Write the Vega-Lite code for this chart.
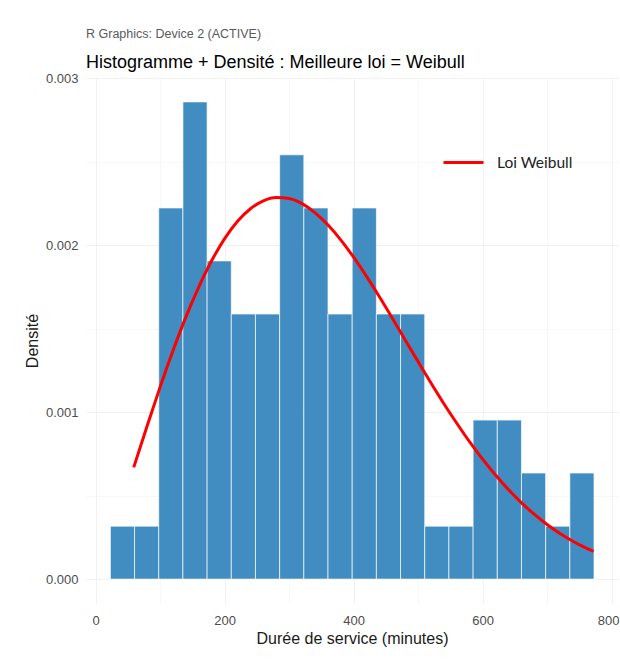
{
  "$schema": "https://vega.github.io/schema/vega-lite/v6.json",
  "width": 532,
  "height": 525,
  "autosize": {"type": "none"},
  "padding": {"left": 86, "top": 78, "right": 2, "bottom": 59},
  "background": "#ffffff",
  "config": {
    "view": {"stroke": null},
    "font": "Liberation Sans"
  },
  "title": {
    "text": "R Graphics: Device 2 (ACTIVE)",
    "subtitle": "Histogramme + Densité : Meilleure loi = Weibull",
    "anchor": "start",
    "frame": "group",
    "font": "Liberation Sans",
    "fontSize": 12.5,
    "fontWeight": "normal",
    "color": "#5a5a5a",
    "subtitleFont": "Liberation Sans",
    "subtitleFontSize": 18,
    "subtitleColor": "#000000",
    "subtitlePadding": 14,
    "offset": 0
  },
  "datasets": {
    "classes": [
      {"debut": 22.8, "fin": 60.3, "densite": 0.000317},
      {"debut": 60.3, "fin": 97.8, "densite": 0.000317},
      {"debut": 97.8, "fin": 135.3, "densite": 0.002222},
      {"debut": 135.3, "fin": 172.8, "densite": 0.002857},
      {"debut": 172.8, "fin": 210.3, "densite": 0.001905},
      {"debut": 210.3, "fin": 247.8, "densite": 0.001587},
      {"debut": 247.8, "fin": 285.3, "densite": 0.001587},
      {"debut": 285.3, "fin": 322.8, "densite": 0.00254},
      {"debut": 322.8, "fin": 360.3, "densite": 0.002222},
      {"debut": 360.3, "fin": 397.8, "densite": 0.001587},
      {"debut": 397.8, "fin": 435.3, "densite": 0.002222},
      {"debut": 435.3, "fin": 472.8, "densite": 0.001587},
      {"debut": 472.8, "fin": 510.3, "densite": 0.001587},
      {"debut": 510.3, "fin": 547.8, "densite": 0.000317},
      {"debut": 547.8, "fin": 585.3, "densite": 0.000317},
      {"debut": 585.3, "fin": 622.8, "densite": 0.000952},
      {"debut": 622.8, "fin": 660.3, "densite": 0.000952},
      {"debut": 660.3, "fin": 697.8, "densite": 0.000635},
      {"debut": 697.8, "fin": 735.3, "densite": 0.000317},
      {"debut": 735.3, "fin": 772.8, "densite": 0.000635}
    ],
    "weibull": [
      {"duree": 59, "densite": 0.000669, "courbe": "Loi Weibull"},
      {"duree": 80, "densite": 0.00092, "courbe": "Loi Weibull"},
      {"duree": 100, "densite": 0.001151, "courbe": "Loi Weibull"},
      {"duree": 120, "densite": 0.001369, "courbe": "Loi Weibull"},
      {"duree": 140, "densite": 0.00157, "courbe": "Loi Weibull"},
      {"duree": 160, "densite": 0.00175, "courbe": "Loi Weibull"},
      {"duree": 180, "densite": 0.001907, "courbe": "Loi Weibull"},
      {"duree": 200, "densite": 0.002038, "courbe": "Loi Weibull"},
      {"duree": 220, "densite": 0.002142, "courbe": "Loi Weibull"},
      {"duree": 240, "densite": 0.002217, "courbe": "Loi Weibull"},
      {"duree": 260, "densite": 0.002265, "courbe": "Loi Weibull"},
      {"duree": 280, "densite": 0.002285, "courbe": "Loi Weibull"},
      {"duree": 300, "densite": 0.002279, "courbe": "Loi Weibull"},
      {"duree": 320, "densite": 0.002248, "courbe": "Loi Weibull"},
      {"duree": 340, "densite": 0.002194, "courbe": "Loi Weibull"},
      {"duree": 360, "densite": 0.002121, "courbe": "Loi Weibull"},
      {"duree": 380, "densite": 0.002031, "courbe": "Loi Weibull"},
      {"duree": 400, "densite": 0.001927, "courbe": "Loi Weibull"},
      {"duree": 420, "densite": 0.001812, "courbe": "Loi Weibull"},
      {"duree": 440, "densite": 0.00169, "courbe": "Loi Weibull"},
      {"duree": 460, "densite": 0.001562, "courbe": "Loi Weibull"},
      {"duree": 480, "densite": 0.001431, "courbe": "Loi Weibull"},
      {"duree": 500, "densite": 0.001302, "courbe": "Loi Weibull"},
      {"duree": 520, "densite": 0.001174, "courbe": "Loi Weibull"},
      {"duree": 540, "densite": 0.00105, "courbe": "Loi Weibull"},
      {"duree": 560, "densite": 0.000933, "courbe": "Loi Weibull"},
      {"duree": 580, "densite": 0.000821, "courbe": "Loi Weibull"},
      {"duree": 600, "densite": 0.000718, "courbe": "Loi Weibull"},
      {"duree": 620, "densite": 0.000623, "courbe": "Loi Weibull"},
      {"duree": 640, "densite": 0.000536, "courbe": "Loi Weibull"},
      {"duree": 660, "densite": 0.000458, "courbe": "Loi Weibull"},
      {"duree": 680, "densite": 0.000389, "courbe": "Loi Weibull"},
      {"duree": 700, "densite": 0.000327, "courbe": "Loi Weibull"},
      {"duree": 720, "densite": 0.000273, "courbe": "Loi Weibull"},
      {"duree": 740, "densite": 0.000227, "courbe": "Loi Weibull"},
      {"duree": 760, "densite": 0.000187, "courbe": "Loi Weibull"},
      {"duree": 772, "densite": 0.000166, "courbe": "Loi Weibull"}
    ]
  },
  "layer": [
    {
      "data": {"name": "classes"},
      "mark": {"type": "bar", "color": "#418cc1", "stroke": "#ffffff", "strokeWidth": 0.8, "strokeOpacity": 0.85},
      "encoding": {
        "x": {
          "field": "debut",
          "type": "quantitative",
          "title": "Durée de service (minutes)",
          "scale": {"domain": [-15, 810], "nice": false, "zero": false},
          "axis": {
            "values": [0, 100, 200, 300, 400, 500, 600, 700, 800],
            "labelExpr": "datum.value % 200 === 0 ? datum.label : ''",
            "format": "d",
            "domain": false,
            "ticks": false,
            "grid": true,
            "gridColor": "#f1f1f1",
            "gridWidth": {"condition": {"test": "datum.value % 200 === 0", "value": 1.1}, "value": 0.55},
            "labelColor": "#4d4d4d",
            "labelFontSize": 13,
            "labelPadding": 11,
            "labelOffset": {"condition": {"test": "datum.value === 800", "value": -3.5}, "value": 0},
            "labelFlush": false,
            "labelOverlap": false,
            "titleFontSize": 16,
            "titleFontWeight": "normal",
            "titleColor": "#1a1a1a",
            "titlePadding": 3
          }
        },
        "x2": {"field": "fin"},
        "y": {
          "field": "densite",
          "type": "quantitative",
          "title": "Densité",
          "scale": {"domain": [-0.000143, 0.003], "nice": false, "zero": false},
          "axis": {
            "values": [0, 0.0005, 0.001, 0.0015, 0.002, 0.0025, 0.003],
            "labelExpr": "round(datum.value * 2000) % 2 === 0 ? format(datum.value, '.3f') : ''",
            "domain": false,
            "ticks": false,
            "grid": true,
            "gridColor": "#f1f1f1",
            "gridWidth": {"condition": {"test": "round(datum.value * 2000) % 2 === 0", "value": 1.1}, "value": 0.55},
            "labelColor": "#4d4d4d",
            "labelFontSize": 13,
            "labelPadding": 8,
            "labelFlush": false,
            "labelOverlap": false,
            "titleFontSize": 16,
            "titleFontWeight": "normal",
            "titleColor": "#1a1a1a",
            "titlePadding": 5
          }
        },
        "y2": {"datum": 0}
      }
    },
    {
      "data": {"name": "weibull"},
      "mark": {"type": "line", "strokeWidth": 3, "interpolate": "monotone"},
      "encoding": {
        "x": {"field": "duree", "type": "quantitative", "title": "Durée de service (minutes)"},
        "y": {"field": "densite", "type": "quantitative", "title": "Densité"},
        "color": {
          "field": "courbe",
          "type": "nominal",
          "scale": {"range": ["#ff0000"]},
          "legend": {
            "orient": "none",
            "legendX": 356,
            "legendY": 63,
            "title": null,
            "padding": 0,
            "symbolType": "stroke",
            "symbolSize": 1600,
            "symbolStrokeWidth": 3,
            "labelFont": "Lato",
            "labelFontSize": 15.5,
            "labelColor": "#222222",
            "labelOffset": 12
          }
        }
      }
    }
  ]
}
